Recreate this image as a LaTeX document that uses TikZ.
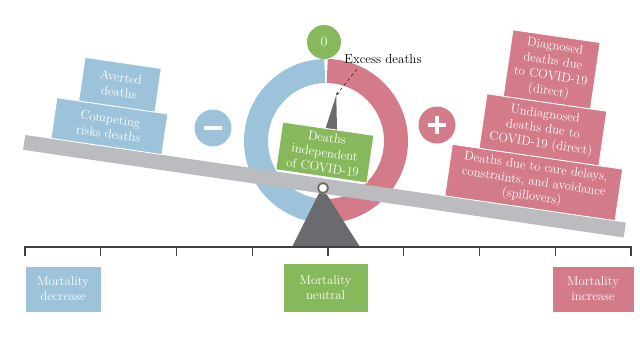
\documentclass[tikz,border=0pt]{standalone}
\usepackage{fontspec}
\usepackage{tikz}
\usetikzlibrary{calc}
\usetikzlibrary{positioning}
\definecolor{bblue}{HTML}{9DC3DB}
\definecolor{ppink}{HTML}{D47B89}
\definecolor{ggreen}{HTML}{87B85C}
\definecolor{bgray}{HTML}{BBBCC0}
\definecolor{dgray}{HTML}{6A6B6F}
\begin{document}
\begin{tikzpicture}[
    x=1pt, y=-1pt,
    box/.style={rectangle, draw=white, line width=0.8pt, text=white, align=center, inner sep=0pt, font=\fontsize{12.8}{15}\selectfont},
    signcircle/.style={circle, minimum size=37pt, inner sep=0pt},
    signbar/.style={white, line width=4pt},
    axisline/.style={line width=1.4pt, color=black!75},
    excessarrow/.style={dashed, -stealth, thin},
  ]
    \useasboundingbox (0,0) rectangle (640,338);
    \coordinate (hub) at (326,141);
    % ring
    \draw[bblue, line width=24pt] (hub) ++(91:70) arc[start angle=91, end angle=269, radius=70];
    \draw[ppink, line width=24pt] (hub) ++(-89:70) arc[start angle=-89, end angle=89, radius=70];
    \node[signcircle, fill=ggreen, minimum size=34pt, text=white, font=\fontsize{14}{16}\selectfont] (zero) at (324,42) {0};
    \node[signcircle, fill=bblue] (minus) at (213,128) {};
    \draw[signbar] ([xshift=-9pt]minus.center) -- ([xshift=9pt]minus.center);
    \node[signcircle, fill=ppink] (plus) at (437,125) {};
    \draw[signbar] ([xshift=-9pt]plus.center) -- ([xshift=9pt]plus.center);
    \draw[signbar] ([yshift=-9pt]plus.center) -- ([yshift=9pt]plus.center);
    % fulcrum and scale
    \fill[dgray] (322,187) -- (292,247) -- (360,247) -- cycle;
    \draw[axisline] (25,247) -- (631,247);
    \foreach \i in {0,...,8}
    \draw[axisline] ({25+75.75*\i},246.3) -- ++(0,10);
    \begin{scope}[shift={(323,186)}, rotate=-8.3, transform shape]
    \fill[bgray] (-302,-7.5) rectangle (305,7.5);
    \node[box, fill=bblue, minimum width=112pt, minimum height=41pt, anchor=south] (competing) at (-220,-7.5) {Competing\\risks deaths};
    \node[box, fill=bblue, minimum width=77pt, minimum height=44pt, anchor=south] (averted) at (-215.5,-48.5) {Averted\\deaths};
    \coordinate (tip) at (0,-92);
    \fill[dgray] (-6,-56) -- (tip) -- (6,-56) -- cycle;
    \node[box, fill=ggreen, minimum width=92pt, minimum height=48pt, anchor=south] (indep) at (-3,-9) {Deaths\\independent\\of COVID-19};
    \node[box, fill=ppink, minimum width=172pt, minimum height=52pt, anchor=south] (spill) at (208,-7.5) {Deaths due to care delays,\\constraints, and avoidance\\(spillovers)};
    \node[box, fill=ppink, minimum width=121pt, minimum height=55pt, anchor=south] (undiag) at (209.5,-59.5) {Undiagnosed\\deaths due to\\COVID-19 (direct)};
    \node[box, fill=ppink, minimum width=88pt, minimum height=67pt, anchor=south] (diag) at (209.5,-114.5) {Diagnosed\\deaths due\\to COVID-19\\(direct)};
    \end{scope}
    \node[circle, draw=dgray, fill=white, line width=1.8pt, minimum size=10pt, inner sep=0pt] (pivot) at (323,188) {};
    \node[font=\fontsize{13}{15}\selectfont] (excess) at (383,59) {Excess deaths};
    \draw[excessarrow] ([xshift=16pt,yshift=-2pt]excess.south west) -- (tip);
    % labels under the scale
    \node[box, fill=bblue, minimum width=76pt, minimum height=46pt] (decrease) at (63,289) {Mortality\\decrease};
    \node[box, fill=ggreen, minimum width=85pt, minimum height=49pt] (neutral) at (325.5,287.5) {Mortality\\neutral};
    \node[box, fill=ppink, minimum width=82pt, minimum height=46pt] (increase) at (593,289) {Mortality\\increase};
\end{tikzpicture}
\end{document}
